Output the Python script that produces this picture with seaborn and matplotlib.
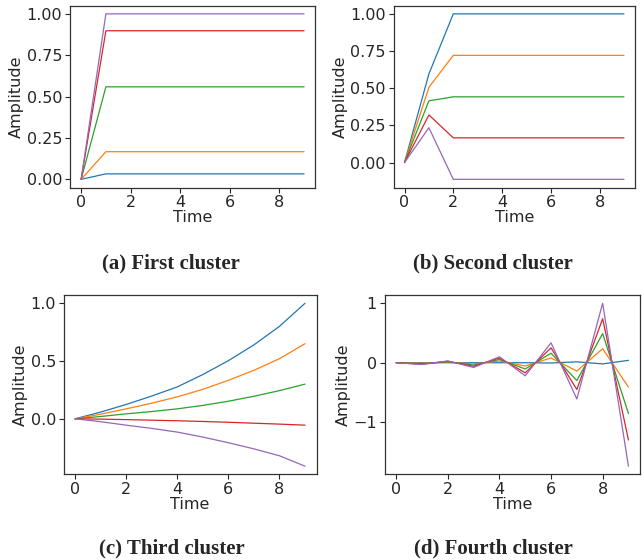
import numpy as np
import pandas as pd
import matplotlib
matplotlib.use("Agg")
import matplotlib.pyplot as plt
from matplotlib.ticker import MultipleLocator
import seaborn as sns

# ---- data ----
time = list(range(10))
series_names = ["s0", "s1", "s2", "s3", "s4"]

# (a) first cluster: jump at t=1, then flat
first_cluster = [
    [0, 0.033, 0.033, 0.033, 0.033, 0.033, 0.033, 0.033, 0.033, 0.033],
    [0, 0.167, 0.167, 0.167, 0.167, 0.167, 0.167, 0.167, 0.167, 0.167],
    [0, 0.559, 0.559, 0.559, 0.559, 0.559, 0.559, 0.559, 0.559, 0.559],
    [0, 0.898, 0.898, 0.898, 0.898, 0.898, 0.898, 0.898, 0.898, 0.898],
    [0, 1.0, 1.0, 1.0, 1.0, 1.0, 1.0, 1.0, 1.0, 1.0],
]

# (b) second cluster: value at t=1, then flat from t=2
second_cluster = [
    [0, 0.596, 1.0, 1.0, 1.0, 1.0, 1.0, 1.0, 1.0, 1.0],
    [0, 0.506, 0.721, 0.721, 0.721, 0.721, 0.721, 0.721, 0.721, 0.721],
    [0, 0.415, 0.442, 0.442, 0.442, 0.442, 0.442, 0.442, 0.442, 0.442],
    [0, 0.320, 0.166, 0.166, 0.166, 0.166, 0.166, 0.166, 0.166, 0.166],
    [0, 0.234, -0.113, -0.113, -0.113, -0.113, -0.113, -0.113, -0.113, -0.113],
]

# (c) third cluster: smooth growth / decay
third_cluster = [
    [0, 0.058, 0.124, 0.197, 0.276, 0.383, 0.503, 0.640, 0.800, 1.0],
    [0, 0.040, 0.086, 0.135, 0.190, 0.255, 0.333, 0.420, 0.520, 0.650],
    [0, 0.020, 0.043, 0.063, 0.086, 0.116, 0.152, 0.195, 0.244, 0.300],
    [0, -0.003, -0.007, -0.012, -0.017, -0.023, -0.030, -0.038, -0.046, -0.055],
    [0, -0.025, -0.055, -0.083, -0.115, -0.158, -0.207, -0.260, -0.320, -0.410],
]

# (d) fourth cluster: growing oscillation
fourth_cluster = [
    [0, 0.0, 0.0, 0.0, 0.0, 0.0, -0.005, 0.015, -0.02, 0.04],
    [0, -0.008, 0.01, -0.02, 0.03, -0.055, 0.08, -0.14, 0.235, -0.41],
    [0, -0.015, 0.015, -0.04, 0.055, -0.105, 0.16, -0.30, 0.49, -0.855],
    [0, -0.025, 0.025, -0.06, 0.08, -0.17, 0.25, -0.45, 0.74, -1.30],
    [0, -0.03, 0.03, -0.08, 0.10, -0.22, 0.335, -0.61, 1.0, -1.74],
]

captions = ["(a) First cluster", "(b) Second cluster",
            "(c) Third cluster", "(d) Fourth cluster"]
y_steps = [0.25, 0.25, 0.5, 1.0]


def to_long(values):
    rows = []
    for name, vals in zip(series_names, values):
        for t, v in zip(time, vals):
            rows.append({"Time": t, "Amplitude": v, "series": name})
    return pd.DataFrame(rows)


sns.set_style("ticks")
plt.rcParams["font.family"] = ["DejaVu Sans"]
plt.rcParams["xtick.labelsize"] = 11.5
plt.rcParams["ytick.labelsize"] = 11.5
plt.rcParams["axes.labelsize"] = 11.5
plt.rcParams["axes.edgecolor"] = "#333333"

palette = sns.color_palette("tab10")[:5]

fig = plt.figure(figsize=(6.42, 5.6), dpi=100)

# axes rectangles (figure fraction)
rects = [
    [0.109, 0.665, 0.382, 0.325],
    [0.613, 0.665, 0.376, 0.325],
    [0.099, 0.153, 0.394, 0.320],
    [0.599, 0.153, 0.398, 0.320],
]
datasets = [first_cluster, second_cluster, third_cluster, fourth_cluster]
caption_pos = [(0.267, 0.512), (0.768, 0.512), (0.267, 0.002), (0.768, 0.002)]

for rect, data, cap, pos, step in zip(rects, datasets, captions, caption_pos, y_steps):
    ax = fig.add_axes(rect)
    df = to_long(data)
    sns.lineplot(data=df, x="Time", y="Amplitude", hue="series",
                 palette=palette, legend=False, linewidth=0.9, ax=ax)
    ax.set_xlabel("Time", labelpad=0)
    ax.set_ylabel("Amplitude", labelpad=2)
    ax.set_xticks([0, 2, 4, 6, 8])
    ax.yaxis.set_major_locator(MultipleLocator(step))
    ax.tick_params(length=3.5, width=0.8, pad=2)
    for sp in ax.spines.values():
        sp.set_linewidth(0.9)
    fig.text(pos[0], pos[1], cap, ha="center", va="bottom",
             fontsize=15, fontweight="bold", family="Liberation Serif")

fig.savefig("out.png", dpi=100)
